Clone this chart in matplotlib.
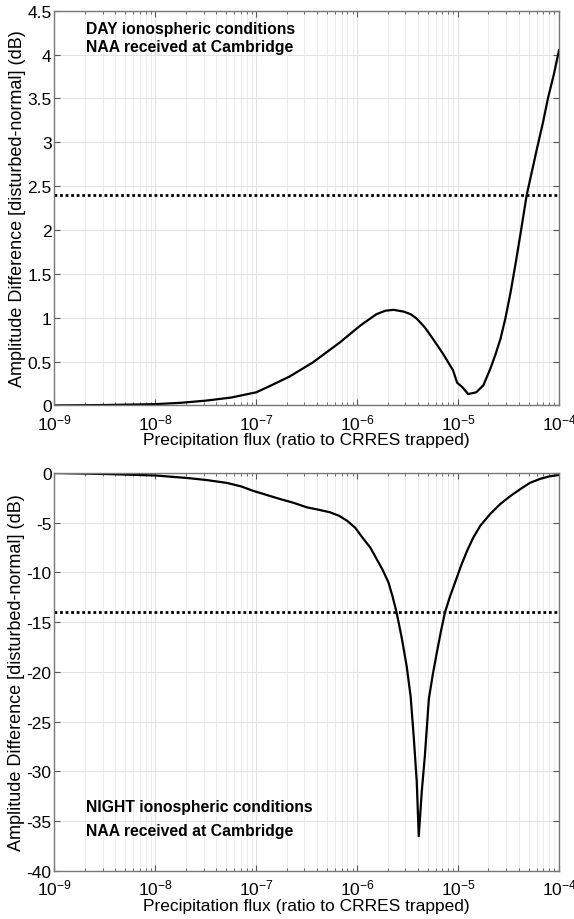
import matplotlib
matplotlib.use("Agg")
import matplotlib.pyplot as plt
from matplotlib.ticker import LogLocator, MultipleLocator, FuncFormatter, NullFormatter

plt.rcParams['font.family'] = ['Liberation Sans', 'DejaVu Sans']
plt.rcParams['axes.unicode_minus'] = False
plt.rcParams['mathtext.fontset'] = 'custom'
plt.rcParams['mathtext.rm'] = 'Liberation Sans'
plt.rcParams['mathtext.it'] = 'Liberation Sans'

# ---- data (flux given as log10 of the ratio) ----
day_log_flux = [-9.0, -8.5, -8.0, -7.75, -7.5, -7.25, -7.0, -6.85, -6.67, -6.44, -6.17, -5.97,
                -5.81, -5.72, -5.64, -5.54, -5.47, -5.41, -5.33, -5.25, -5.15, -5.05, -5.01,
                -4.96, -4.90, -4.82, -4.75, -4.68, -4.63, -4.58, -4.53, -4.48, -4.43, -4.38,
                -4.32, -4.27, -4.22, -4.16, -4.11, -4.05, -4.0]
day_amp = [0.0, 0.005, 0.015, 0.03, 0.055, 0.09, 0.15, 0.23, 0.33, 0.49, 0.72, 0.91,
           1.04, 1.08, 1.09, 1.07, 1.04, 0.99, 0.89, 0.76, 0.59, 0.40, 0.26,
           0.21, 0.13, 0.15, 0.23, 0.42, 0.58, 0.76, 1.0, 1.29, 1.62, 1.97,
           2.40, 2.66, 2.92, 3.22, 3.50, 3.78, 4.05]
day_threshold = 2.4

night_log_flux = [-9.0, -8.5, -8.0, -7.69, -7.5, -7.29, -7.15, -7.03, -6.9, -6.77, -6.63, -6.5,
                  -6.38, -6.27, -6.18, -6.10, -6.02, -5.94, -5.87, -5.81, -5.75, -5.69, -5.65,
                  -5.61, -5.56, -5.51, -5.47, -5.44, -5.41, -5.39, -5.36, -5.33, -5.29, -5.25,
                  -5.21, -5.17, -5.13, -5.08, -5.03, -4.97, -4.91, -4.85, -4.78, -4.68, -4.58,
                  -4.48, -4.38, -4.29, -4.19, -4.1, -4.0]
night_amp = [0.0, -0.1, -0.25, -0.5, -0.7, -1.0, -1.35, -1.8, -2.2, -2.6, -3.0, -3.45,
             -3.7, -3.95, -4.3, -4.8, -5.5, -6.6, -7.5, -8.6, -9.7, -11.0, -12.4,
             -14.0, -16.5, -19.4, -22.5, -26.5, -31.0, -36.5, -32.0, -28.5, -22.7, -20.2,
             -18.0, -15.9, -14.0, -12.4, -11.0, -9.3, -7.8, -6.5, -5.3, -4.1, -3.1,
             -2.3, -1.6, -1.0, -0.6, -0.35, -0.2]
night_threshold = -14.0

xlabel = "Precipitation flux (ratio to CRRES trapped)"
ylabel = "Amplitude Difference [disturbed-normal] (dB)"
day_text = ["DAY ionospheric conditions", "NAA received at Cambridge"]
night_text = ["NIGHT ionospheric conditions", "NAA received at Cambridge"]

day_flux = [10.0 ** v for v in day_log_flux]
night_flux = [10.0 ** v for v in night_log_flux]

fig = plt.figure(figsize=(5.74, 9.2), dpi=100)
ax1 = fig.add_axes([0.0949, 0.5582, 0.879, 0.4291])
ax2 = fig.add_axes([0.0949, 0.0522, 0.879, 0.4326])


def fmt_num(v, pos):
    return '%g' % v


def style(ax, ylim, ystep):
    ax.set_xscale('log')
    ax.set_xlim(1e-9, 1e-4)
    ax.set_ylim(*ylim)
    ax.xaxis.set_major_locator(LogLocator(base=10, numticks=10))
    ax.xaxis.set_minor_locator(LogLocator(base=10, subs=range(2, 10), numticks=20))
    ax.xaxis.set_minor_formatter(NullFormatter())
    ax.yaxis.set_major_locator(MultipleLocator(ystep))
    ax.yaxis.set_major_formatter(FuncFormatter(fmt_num))
    ax.grid(True, which='major', color='#e2e2e2', lw=0.8)
    ax.grid(True, which='minor', axis='x', color='#ececec', lw=0.7)
    ax.set_axisbelow(True)
    ax.tick_params(which='both', direction='in', top=True, right=True, colors='#555555',
                   labelcolor='black', labelsize=12.5)
    ax.tick_params(which='major', length=4)
    ax.tick_params(which='minor', length=2.5)
    ax.tick_params(axis='x', pad=5)
    ax.tick_params(axis='y', pad=2)
    for sp in ax.spines.values():
        sp.set_color('#777777')
        sp.set_linewidth(1.0)
    ax.set_xlabel(xlabel, fontsize=12.5, labelpad=0)
    ax.set_ylabel(ylabel, fontsize=13, labelpad=1)


style(ax1, (0, 4.5), 0.5)
style(ax2, (-40, 0), 5)

ax1.plot(day_flux, day_amp, color='black', lw=1.6)
ax1.axhline(day_threshold, color='black', lw=2.0, ls=(0, (1, 1)))
ax2.plot(night_flux, night_amp, color='black', lw=1.6)
ax2.axhline(night_threshold, color='black', lw=2.0, ls=(0, (1, 1)))

tx = 0.0624
ax1.text(tx, 4.30, day_text[0], transform=ax1.get_yaxis_transform(), fontsize=11.3,
         fontweight='bold', va='center')
ax1.text(tx, 4.09, day_text[1], transform=ax1.get_yaxis_transform(), fontsize=11.3,
         fontweight='bold', va='center')
ax2.text(tx, -33.5, night_text[0], transform=ax2.get_yaxis_transform(), fontsize=11.3,
         fontweight='bold', va='center')
ax2.text(tx, -35.9, night_text[1], transform=ax2.get_yaxis_transform(), fontsize=11.3,
         fontweight='bold', va='center')

fig.savefig('out.png', dpi=100)
